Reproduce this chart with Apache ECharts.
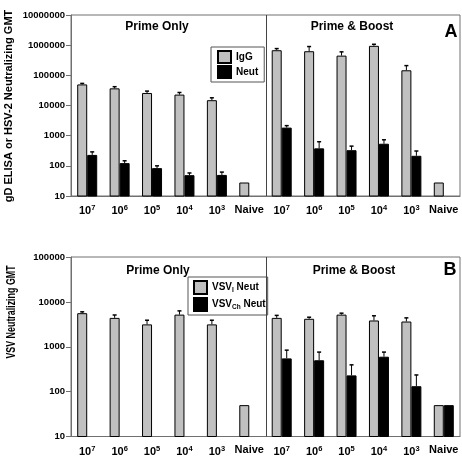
<!DOCTYPE html>
<html><head><meta charset="utf-8">
<script src="https://cdn.jsdelivr.net/npm/echarts@6/dist/echarts.min.js"></script>
<style>html,body{margin:0;padding:0;background:#fff}#c{width:462px;height:457px}</style>
</head><body><div id="c"></div>
<script>
const categories = ['10^7','10^6','10^5','10^4','10^3','Naive','10^7','10^6','10^5','10^4','10^3','Naive'];
// Panel A
const igg    = [50000, 37000, 26000, 23000, 15000, 28, 680000, 630000, 450000, 950000, 147000, 28];
const iggErr = [54000, 42000, 30000, 27000, 18000, null, 770000, 900000, 600000, 1070000, 210000, null];
const neut    = [230, 123, 84, 49, 50, null, 1850, 380, 330, 540, 215, null];
const neutErr = [290, 147, 100, 58, 62, null, 2150, 630, 450, 730, 310, null];
// Panel B
const vsvI    = [5600, 4400, 3150, 5200, 3150, 50, 4400, 4200, 5200, 3850, 3650, 50];
const vsvIErr = [6000, 5100, 3900, 6300, 3900, null, 5000, 4550, 5600, 4900, 4400, null];
const vsvCh    = [null, null, null, null, null, null, 550, 500, 230, 600, 132, 50];
const vsvChErr = [null, null, null, null, null, null, 840, 760, 395, 760, 235, null];

const FONT = 'Liberation Sans, Arial, sans-serif';
const GRAY = '#c0c0c0';
const AXC = '#707070';

function errData(vals, errs, off) {
  const out = [];
  errs.forEach((e, i) => { if (e != null && vals[i] != null) out.push([i, e, off, vals[i]]); });
  return out;
}
function errSeries(idx, vals, errs, off) {
  return {
    type: 'custom', xAxisIndex: idx, yAxisIndex: idx, silent: true, z: 5,
    data: errData(vals, errs, off),
    renderItem: function (params, api) {
      const top = api.coord([api.value(0), api.value(1)]);
      const base = api.coord([api.value(0), api.value(3)]);
      const x = top[0] + api.value(2);
      return { type: 'group', children: [
        { type: 'line', shape: { x1: x, y1: base[1], x2: x, y2: top[1] }, style: { stroke: '#000', lineWidth: 1 } },
        { type: 'line', shape: { x1: x - 2, y1: top[1], x2: x + 2, y2: top[1] }, style: { stroke: '#000', lineWidth: 1.5 } }
      ]};
    }
  };
}
function dividerSeries(idx) {
  return {
    type: 'custom', xAxisIndex: idx, yAxisIndex: idx, silent: true, z: 6,
    data: [[5, 10]],
    renderItem: function (params, api) {
      const cs = params.coordSys;
      const p = api.coord([5, api.value(1)]);
      const bw = api.size([1, 0])[0];
      const x = Math.round(p[0] + bw / 2) + 0.5;
      return { type: 'line', shape: { x1: x, y1: cs.y, x2: x, y2: cs.y + cs.height }, style: { stroke: '#444', lineWidth: 1 } };
    }
  };
}
function xLabel(v) {
  if (v === 'Naive') return 'Naive';
  const p = v.split('^');
  return p[0] + '{sup|' + p[1] + '}';
}
function xAxisCfg(idx) {
  return {
    type: 'category', gridIndex: idx, data: categories,
    axisLine: { lineStyle: { color: AXC } }, axisTick: { show: false },
    axisLabel: { interval: 0, margin: 8, formatter: xLabel, color: '#000',
      fontFamily: FONT, fontWeight: 'bold', fontSize: 11,
      rich: { sup: { fontSize: 7.5, fontWeight: 'bold', fontFamily: FONT, verticalAlign: 'top', padding: [0, 0, 6, 0], color: '#000' } } }
  };
}
function yAxisCfg(idx, max) {
  return {
    type: 'log', logBase: 10, gridIndex: idx, min: 10, max: max,
    axisLine: { show: true, lineStyle: { color: AXC } },
    axisTick: { show: true, length: 5, lineStyle: { color: AXC } },
    splitLine: { show: false }, minorTick: { show: false },
    axisLabel: { margin: 6, color: '#000', fontFamily: FONT, fontWeight: 'bold', fontSize: 9.5, formatter: v => String(Math.round(v)) }
  };
}
function bar(idx, name, data, color) {
  return { type: 'bar', name: name, xAxisIndex: idx, yAxisIndex: idx, data: data,
    barWidth: 10, barGap: '0%', itemStyle: { color: color, borderColor: '#000', borderWidth: 1 } };
}
function txt(text, x, y, size, rot, sx) {
  return { type: 'text', x: x, y: y, rotation: rot || 0, scaleX: sx || 1,
    style: { text: text, font: 'bold ' + size + 'px ' + FONT, fill: '#000', textAlign: 'center', textVerticalAlign: 'middle' } };
}

const chart = echarts.init(document.getElementById('c'), null, { renderer: 'canvas' });
chart.setOption({
  animation: false,
  grid: [
    { left: 71, top: 15, width: 389, height: 181, show: true, borderColor: AXC, borderWidth: 1 },
    { left: 71, top: 257, width: 389, height: 182, show: true, borderColor: AXC, borderWidth: 1 }
  ],
  xAxis: [xAxisCfg(0), xAxisCfg(1)],
  yAxis: [yAxisCfg(0, 10000000), yAxisCfg(1, 100000)],
  legend: [
    { data: ['IgG', 'Neut'], orient: 'vertical', left: 211, top: 47, itemWidth: 13, itemHeight: 12, itemGap: 1,
      padding: [3, 6, 3, 6], borderColor: '#555', borderWidth: 1, icon: 'rect',
      textStyle: { fontFamily: FONT, fontWeight: 'bold', fontSize: 10, color: '#000' } },
    { data: ['VSVI Neut', 'VSVCh Neut'], orient: 'vertical', left: 188, top: 277, itemWidth: 13, itemHeight: 13, itemGap: 2,
      padding: [3, 2, 3, 5], borderColor: '#555', borderWidth: 1, icon: 'rect',
      formatter: n => n === 'VSVI Neut' ? 'VSV{sub|I} Neut' : 'VSV{sub|Ch} Neut',
      textStyle: { fontFamily: FONT, fontWeight: 'bold', fontSize: 10, color: '#000',
        rich: { sub: { fontFamily: FONT, fontWeight: 'bold', fontSize: 6.5, verticalAlign: 'bottom', padding: [5, 0, 0, 0], color: '#000' } } } }
  ],
  graphic: [
    txt('Prime Only', 157, 27, 12),
    txt('Prime & Boost', 352, 27, 12),
    txt('A', 451, 32, 18),
    txt('Prime Only', 158, 271, 12),
    txt('Prime & Boost', 354, 271, 12),
    txt('B', 450, 270, 18),
    txt('gD ELISA or HSV-2 Neutralizing GMT', 9, 106, 11, Math.PI / 2),
    txt('VSV Neutralizing GMT', 12, 312, 12, Math.PI / 2, 0.74)
  ],
  series: [
    bar(0, 'IgG', igg, GRAY),
    bar(0, 'Neut', neut, '#000'),
    errSeries(0, igg, iggErr, -5),
    errSeries(0, neut, neutErr, 5),
    dividerSeries(0),
    bar(1, 'VSVI Neut', vsvI, GRAY),
    bar(1, 'VSVCh Neut', vsvCh, '#000'),
    errSeries(1, vsvI, vsvIErr, -5),
    errSeries(1, vsvCh, vsvChErr, 5),
    dividerSeries(1)
  ]
});
</script></body></html>
